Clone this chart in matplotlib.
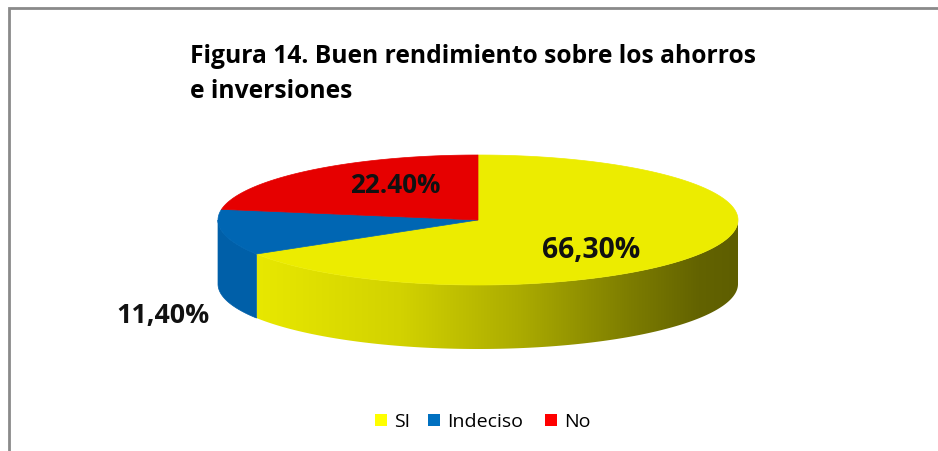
import numpy as np
import matplotlib
matplotlib.use("Agg")
import matplotlib.pyplot as plt
from matplotlib.patches import Polygon, Rectangle
from matplotlib.colors import LinearSegmentedColormap

# ---- data ----
categories = ["SI", "Indeciso", "No"]
values = [66.3, 11.4, 22.4]
label_texts = ["66,30%", "11,40%", "22.40%"]
title_lines = ["Figura 14. Buen rendimiento sobre los ahorros", "e inversiones"]

# ---- styles ----
top_colors = ["#ECEC00", "#0066B3", "#E60000"]
side_colors = ["#ECEC00", "#005FA8", "#B00000"]
legend_colors = ["#FFFF00", "#0070C0", "#FF0000"]
FONT = "Open Sans"

W, H = 938, 452
fig = plt.figure(figsize=(W / 100, H / 100), dpi=100)
ax = fig.add_axes([0, 0, 1, 1])
ax.set_xlim(0, W)
ax.set_ylim(H, 0)
ax.axis("off")
renderer = fig.canvas.get_renderer()


def fit_text(x, y, s, target_w, size0, **kw):
    t = ax.text(x, y, s, fontsize=size0, **kw)
    w = t.get_window_extent(renderer=renderer).width
    if w > 0:
        t.set_fontsize(size0 * target_w / w)
    return t


# frame (chart area border)
ax.plot([9, 9, W + 10], [H + 10, 9, 9], color="#8a8a8a", lw=2.0,
        solid_joinstyle="miter", clip_on=False)

# pie geometry (pixels)
cx, cy, a, b, depth = 478, 221, 260, 65, 64


def pt(t_deg, dy=0.0):
    t = np.radians(t_deg)
    return cx + a * np.cos(t), cy - b * np.sin(t) + dy


def arc(t1, t2, n=200, dy=0.0):
    ts = np.linspace(t1, t2, n)
    xs, ys = pt(ts, dy)
    return np.column_stack([xs, ys])


total = float(sum(values))
fracs = [v / total for v in values]
starts = np.concatenate([[0], np.cumsum(fracs)[:-1]])
theta1 = 90 - 360 * starts                    # start angle (clockwise)
theta2 = theta1 - 360 * np.array(fracs)       # end angle

# yellow side gradient colormap (bright left -> dark right)
grad = LinearSegmentedColormap.from_list(
    "side", [(0.0, "#E8E800"), (0.3, "#D2D200"), (0.55, "#ABAB00"),
             (0.78, "#7C7C00"), (0.92, "#636300"), (1.0, "#5E5E00")])

# side faces (front half only)
for i in range(len(values)):
    lo, hi = theta2[i], theta1[i]
    for k in range(-2, 2):
        f_lo, f_hi = -180 + 360 * k, 360 * k
        s, e = max(lo, f_lo), min(hi, f_hi)
        if e - s <= 0.01:
            continue
        top = arc(s, e)
        bot = arc(e, s, dy=depth)
        poly = np.vstack([top, bot])
        if i == 0:
            patch = Polygon(poly, closed=True, facecolor="none", edgecolor="none")
            ax.add_patch(patch)
            xmin, xmax = poly[:, 0].min(), poly[:, 0].max()
            ymin, ymax = poly[:, 1].min(), poly[:, 1].max()
            g = np.linspace(0, 1, 256)[None, :]
            im = ax.imshow(g, cmap=grad, aspect="auto",
                           extent=[xmin, xmax, ymax, ymin], zorder=1,
                           interpolation="bilinear")
            im.set_clip_path(patch)
        else:
            ax.add_patch(Polygon(poly, closed=True, facecolor=side_colors[i],
                                 edgecolor=side_colors[i], lw=0.5, zorder=1))

# top faces
for i in range(len(values)):
    pts = np.vstack([[cx, cy], arc(theta1[i], theta2[i])])
    ax.add_patch(Polygon(pts, closed=True, facecolor=top_colors[i],
                         edgecolor=top_colors[i], lw=0.5, zorder=2))

# data labels
label_pos = [(591, 251), (163, 316), (395, 186)]
label_w = [98, 93, 90]
for txt, (x, y), tw in zip(label_texts, label_pos, label_w):
    fit_text(x, y, txt, tw, 19, fontweight="bold", family=FONT,
             color="#111111", ha="center", va="center", zorder=5)

# title
t1 = fit_text(190, 63, title_lines[0], 565, 16.5, fontweight="bold",
              family=FONT, color="#000000", ha="left", va="baseline")
ax.text(190, 98, title_lines[1], fontsize=t1.get_fontsize(), fontweight="bold",
        family=FONT, color="#000000", ha="left", va="baseline")

# legend
leg_x = [375, 428, 545]
for cat, col, x in zip(categories, legend_colors, leg_x):
    ax.add_patch(Rectangle((x, 415), 12, 12, facecolor=col, edgecolor="none"))
    ax.text(x + 19, 422, cat, fontsize=14, family=FONT, color="#000000",
            ha="left", va="center")

fig.savefig("out.png", dpi=100)
